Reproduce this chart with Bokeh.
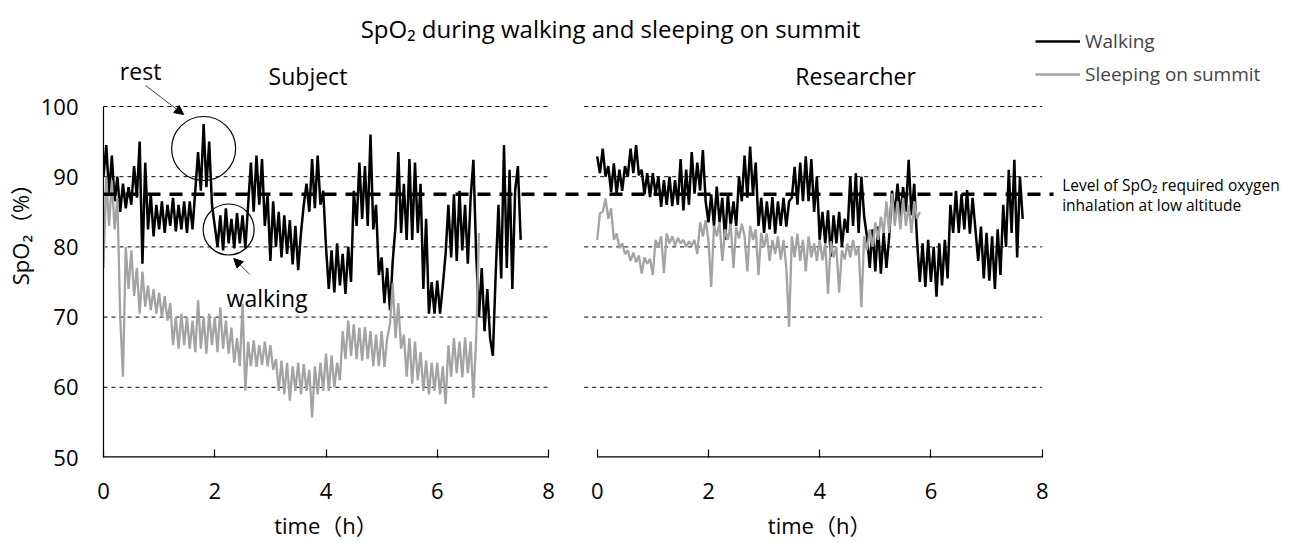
from bokeh.plotting import figure
from bokeh.models import (Range1d, LinearAxis, FixedTicker, Label, Legend, LegendItem,
                          Arrow, NormalHead, ColumnDataSource)
from bokeh.embed import file_html
from bokeh.resources import INLINE

# ---------------- data ----------------
SAMPLE_H = 0.05  # sampling interval of the traces, hours

subject_walking = [
    90, 94.5, 87.5, 93, 86.5, 90, 85, 89, 85.5, 88.5,
    86, 91.5, 87, 95, 77.6, 92, 82.5, 87.5, 81.5, 86,
    82.5, 86.5, 82, 86, 83, 87, 82.2, 86, 82.5, 86.5,
    82, 86.5, 82.5, 88, 93.5, 88, 97.5, 88.5, 95, 86,
    83, 80, 84.5, 79.5, 85.5, 80.5, 84, 79.8, 84.8, 80.5,
    84.5, 79.8, 86, 92, 85, 93, 86, 92.5, 83, 87.5,
    78, 86.5, 80, 85, 78.5, 84.5, 79, 83.8, 77.5, 83,
    76.7, 82, 86, 89, 85, 92.5, 85.5, 93, 86, 88,
    80, 74, 79.5, 73.5, 80.5, 74.5, 79, 73.3, 80, 75,
    88, 83, 92, 84, 91.5, 83, 96, 82.5, 86, 76,
    78.5, 72, 77, 71, 78, 83, 93.5, 82, 89, 81,
    92.5, 81, 92, 82, 89, 74, 84, 70.5, 75, 70.5,
    75.2, 70.5, 74.5, 79, 86, 78.5, 87.5, 78, 88, 79.5,
    86, 77.6, 87, 92.4, 79, 70, 77, 68, 74, 67,
    64.5, 76, 86, 75.5, 94.5, 77, 91, 74, 88, 91.5, 81,
]

subject_sleeping = [
    77, 90, 83, 89.5, 82.5, 87, 70, 61.5, 80, 74,
    79.5, 73, 77, 70.5, 76.5, 71.5, 74.5, 71, 74, 70.5,
    73.5, 70, 73, 69.5, 72, 66, 70, 65.5, 70.5, 66,
    70, 65.5, 69.5, 65, 72.4, 65.5, 70, 64.8, 70.5, 66,
    70, 65, 71.4, 65.5, 69.5, 64.8, 68.5, 63.5, 67, 63,
    71.9, 59.5, 66.5, 63, 66.7, 62.9, 66, 63.2, 66.5, 63,
    66, 62.5, 64, 59.5, 63.8, 59, 63.5, 58.1, 63, 59.5,
    63.5, 59, 63.3, 59.5, 62.5, 55.7, 63, 59, 63.5, 59.5,
    64.8, 59.5, 64.5, 60, 63.5, 61, 68, 64, 69.5, 64.5,
    69, 64, 68.5, 63.8, 68.6, 64, 68, 63, 67.5, 63,
    68, 62.9, 67, 69, 74.8, 67, 72, 65.5, 67.5, 61.5,
    67, 60.5, 66.5, 61, 65, 59.5, 63.8, 59, 63.5, 59.5,
    63.5, 59, 63, 57.6, 66, 61.5, 67, 62, 66.5, 61.4,
    67.1, 62, 66.5, 58.5, 67, 82,
]

researcher_walking = [
    92.9, 90.5, 94, 90, 91.5, 87.8, 91.9, 87.6, 91, 88,
    91.5, 90, 94, 90.5, 94.5, 90.2, 91, 87.5, 90.5, 87.1,
    90.5, 87.5, 90, 85.7, 89.5, 86, 90, 85.8, 89.5, 86,
    92.5, 85.2, 91, 86, 93.5, 87.6, 92, 88, 93.8, 86.5,
    83.5, 87.5, 83, 88.6, 83.5, 87, 81, 87.5, 83, 86.5,
    83, 90, 86.5, 93, 87, 94.3, 87.5, 92, 83, 87,
    82, 86.5, 82.5, 87.1, 81.9, 86.5, 83, 87, 82.9, 86.5,
    87, 91.4, 86, 92, 86.5, 92.9, 86.5, 92.5, 85, 90,
    81, 85, 80.5, 85.2, 78.6, 84.5, 80.5, 85, 80, 84,
    82, 90, 83, 90.5, 82, 90, 84.3, 81.5, 77, 82.5,
    76.5, 82.9, 76.2, 82, 77, 81.5, 88, 84.5, 89, 84.3,
    88.5, 85, 92.4, 84.5, 89, 81, 75, 80.5, 74.3, 81,
    75, 80, 72.9, 80.5, 74.5, 81, 75.5, 86, 82, 88,
    82, 87.5, 82.5, 88.1, 81.9, 87, 82.5, 78, 82.9, 75.5,
    82, 75.2, 81.5, 74, 82.5, 76, 86, 80, 91, 82,
    92.4, 78.5, 90, 84,
]

researcher_sleeping = [
    81, 84.8, 85, 86.9, 84, 85.5, 81, 81.9, 79.8, 80.5,
    79, 79.5, 78, 79.2, 77.8, 78.8, 76.2, 78.5, 77.6, 78.3,
    76, 81, 80, 81.5, 76.3, 81.9, 80.5, 81.5, 80.2, 81.3,
    80.5, 81, 80, 80.8, 80.2, 81, 79, 83.5, 81.5, 83.8,
    81, 74.3, 83, 81.5, 83.5, 78, 82.5, 81, 83.3, 77,
    82.8, 81.2, 83.3, 81.5, 76.5, 83, 81, 82.5, 76, 82,
    80, 81.9, 78, 81, 79, 81.5, 78.2, 81, 77, 68.6,
    81.5, 78.5, 81.9, 78, 81, 76.5, 81.5, 78.5, 80.5, 78,
    81, 78.1, 80.5, 73.3, 80.8, 78.5, 80, 73.5, 79.5, 78.2,
    80.5, 78.5, 81, 78.8, 80, 71.4, 81.5, 79.5, 82.5, 80,
    83.5, 81, 84.3, 82, 86.5, 82, 87.6, 83, 86.5, 82.5,
    87, 83, 86, 82, 86.5, 84, 85,
]

THRESHOLD = 87.5                  # SpO2 level requiring oxygen at low altitude
y_ticks = [50, 60, 70, 80, 90, 100]
grid_levels = [60, 70, 80, 90, 100]
x_ticks = [0, 2, 4, 6, 8]

panel_titles = ["Subject", "Researcher"]
series_names = ["Walking", "Sleeping on summit"]
x_title = "time（h）"
y_title = "SpO₂（%）"

# ---------------- layout / styling ----------------
FONT = "'Open Sans', 'Noto Sans CJK JP', sans-serif"
WALK_COLOR = "black"
SLEEP_COLOR = "#a3a3a3"
PX_PER_H = 55.625
FRAME_W = 1291 - 103
R_START = -8.875        # right panel's time axis starts this far left of the frame's left edge


def times(vals):
    return [round(i * SAMPLE_H, 3) for i in range(len(vals))]


p = figure(width=1291, height=543, output_backend="svg", toolbar_location=None,
           x_range=Range1d(0, FRAME_W / PX_PER_H), y_range=Range1d(50, 50 + 457 / 7.02),
           x_axis_location=None, y_axis_location=None,
           min_border_left=103, min_border_right=0, min_border_top=0, min_border_bottom=86)
p.extra_x_ranges = {"R": Range1d(R_START, R_START + FRAME_W / PX_PER_H)}
p.outline_line_color = None
p.background_fill_color = None
p.grid.visible = False

# y axis
yax = LinearAxis(bounds=(50, 100), ticker=FixedTicker(ticks=y_ticks), axis_label=y_title)
# x axis: shared by both panels, labels for each panel's own time scale
right_pos = [t - R_START for t in x_ticks]
overrides = {t: str(t) for t in x_ticks}
overrides.update({pos: str(t) for pos, t in zip(right_pos, x_ticks)})
xax = LinearAxis(ticker=FixedTicker(ticks=x_ticks + right_pos), major_label_overrides=overrides)
# second row under the tick labels: each panel's time-axis title, centred on its panel
mid = (x_ticks[0] + x_ticks[-1]) / 2
xtitle_ax = LinearAxis(ticker=FixedTicker(ticks=[mid, mid - R_START]),
                       major_label_overrides={mid: x_title, mid - R_START: x_title})

for ax in (yax, xax, xtitle_ax):
    ax.major_label_text_font = FONT
    ax.major_label_text_font_size = "22px"
    ax.major_label_text_color = "black"
    ax.axis_label_text_font = FONT
    ax.axis_label_text_font_size = "22px"
    ax.axis_label_text_font_style = "normal"
    ax.axis_label_text_color = "black"
    ax.minor_tick_line_color = None
    ax.major_tick_line_color = "black"
yax.axis_line_color = "black"
yax.axis_line_width = 1.2
yax.major_tick_in = 0
yax.major_tick_out = 0
yax.major_label_standoff = 25
yax.axis_label_standoff = 3
xax.axis_line_color = None
xax.major_tick_in = 8
xax.major_tick_out = 0
xax.major_tick_line_width = 1.2
xax.major_label_standoff = 25
xtitle_ax.axis_line_color = None
xtitle_ax.major_tick_line_color = None
xtitle_ax.major_tick_in = 0
xtitle_ax.major_tick_out = 0
xtitle_ax.major_label_standoff = 8
p.add_layout(yax, "left")
p.add_layout(xax, "below")
p.add_layout(xtitle_ax, "below")

# time-axis baselines for each panel
p.segment(x0=[x_ticks[0]], x1=[x_ticks[-1]], y0=[y_ticks[0]], y1=[y_ticks[0]],
          line_color="black", line_width=2.4)
p.segment(x0=[x_ticks[0]], x1=[x_ticks[-1]], y0=[y_ticks[0]], y1=[y_ticks[0]],
          line_color="black", line_width=2.4, x_range_name="R")

# gridlines (dashed, limited to each panel)
n = len(grid_levels)
p.segment(x0=[0] * n, x1=[8.0] * n, y0=grid_levels, y1=grid_levels,
          line_color="black", line_width=1, line_dash="4 4")
p.segment(x0=[-0.234] * n, x1=[8.0] * n, y0=grid_levels, y1=grid_levels,
          line_color="black", line_width=1, line_dash="4 4", x_range_name="R")

# data
src_sw = ColumnDataSource(dict(t=times(subject_walking), v=subject_walking))
src_ss = ColumnDataSource(dict(t=times(subject_sleeping), v=subject_sleeping))
src_rw = ColumnDataSource(dict(t=times(researcher_walking), v=researcher_walking))
src_rs = ColumnDataSource(dict(t=times(researcher_sleeping), v=researcher_sleeping))

r_sw = p.line("t", "v", source=src_sw, line_color=WALK_COLOR, line_width=2.5)
r_ss = p.line("t", "v", source=src_ss, line_color=SLEEP_COLOR, line_width=2.3)
r_rw = p.line("t", "v", source=src_rw, line_color=WALK_COLOR, line_width=2.5, x_range_name="R")
r_rs = p.line("t", "v", source=src_rs, line_color=SLEEP_COLOR, line_width=2.3, x_range_name="R")

# threshold
p.segment(x0=[0], x1=[(1053 - 103) / PX_PER_H], y0=[THRESHOLD], y1=[THRESHOLD],
          line_color="black", line_width=3.5, line_dash="13 9")

# legend
legend = Legend(items=[LegendItem(label=series_names[0], renderers=[r_sw]),
                       LegendItem(label=series_names[1], renderers=[r_ss])],
                location=(932, 370), orientation="vertical",
                glyph_width=45, glyph_height=20, label_height=20, label_standoff=5,
                spacing=7, padding=0, margin=0, border_line_color=None,
                background_fill_alpha=0, label_text_font=FONT, label_text_font_size="19px")
p.add_layout(legend)

# texts
def label(x, y, text, size, align="center", rng="default"):
    p.add_layout(Label(x=x, y=y, x_range_name=rng, text=text, text_align=align,
                       text_baseline="middle", text_font=FONT, text_font_size=size,
                       text_color="black"))

label(0.24, 111.1, "SpO₂ during walking and sleeping on summit", "24px", rng="R")
label(3.676, 104.4, panel_titles[0], "23px")
label(4.646, 104.4, panel_titles[1], "23px", rng="R")
label(0.667, 105.1, "rest", "23px")
label(2.94, 72.65, "walking", "23px")
label(8.36, 88.75, "Level of SpO₂ required oxygen", "15.5px", align="left", rng="R")
label(8.36, 86.0, "inhalation at low altitude", "15.5px", align="left", rng="R")

# annotation circles and arrows
p.scatter(x=[1.80], y=[94.02], size=64, marker="circle", fill_color=None, line_color="black", line_width=1.2)
p.scatter(x=[2.25], y=[82.48], size=51, marker="circle", fill_color=None, line_color="black", line_width=1.2)
p.add_layout(Arrow(end=NormalHead(size=9, fill_color="black", line_color="black"),
                   x_start=0.757, y_start=102.99, x_end=1.441, y_end=98.86,
                   line_color="#404040", line_width=1))
p.add_layout(Arrow(end=NormalHead(size=9, fill_color="black", line_color="black"),
                   x_start=2.63, y_start=76.07, x_end=2.342, y_end=78.35,
                   line_color="#404040", line_width=1))

open("out.html", "w").write(file_html(p, INLINE))
